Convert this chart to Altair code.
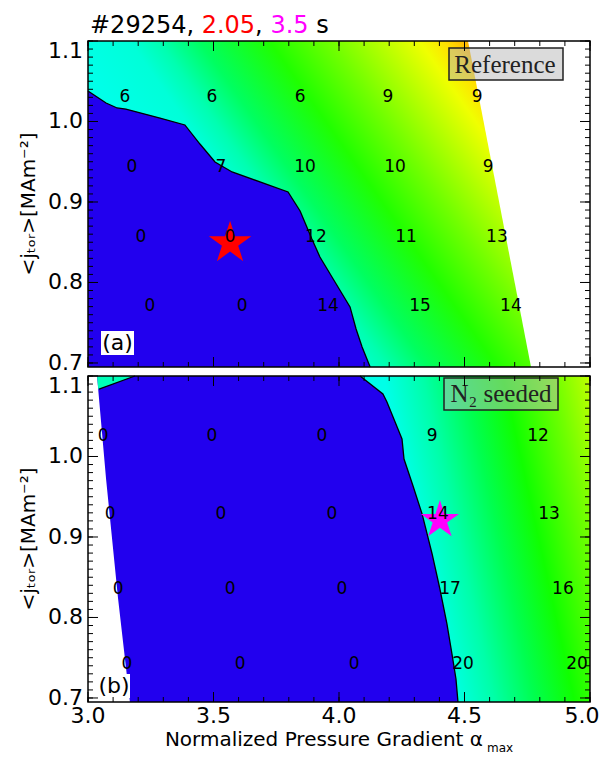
import altair as alt
import numpy as np
import pandas as pd

# ----------------------------- data -----------------------------
X_DOMAIN = [3.0, 5.0]
Y_DOMAIN = [0.695, 1.1]

x_tick_values = [3.0, 3.5, 4.0, 4.5, 5.0]
y_tick_values = [0.7, 0.8, 0.9, 1.0, 1.1]
y_label_values = [0.7, 0.8, 0.9, 1.0]

top_num_x = [3.147, 3.494, 3.845, 4.195, 4.550,
             3.175, 3.530, 3.865, 4.223, 4.594,
             3.211, 3.566, 3.908, 4.267, 4.629,
             3.247, 3.614, 3.956, 4.323, 4.685]
top_num_y = [1.030, 1.030, 1.030, 1.030, 1.030,
             0.943, 0.943, 0.943, 0.943, 0.943,
             0.857, 0.857, 0.857, 0.857, 0.857,
             0.771, 0.771, 0.771, 0.771, 0.771]
top_num_v = [6, 6, 6, 9, 9,
             0, 7, 10, 10, 9,
             0, 0, 12, 11, 13,
             0, 0, 14, 15, 14]

bot_num_x = [3.060, 3.494, 3.932, 4.371, 4.793,
             3.088, 3.530, 3.972, 4.394, 4.837,
             3.120, 3.566, 4.012, 4.442, 4.892,
             3.155, 3.606, 4.060, 4.494, 4.948]
bot_num_y = [1.025, 1.025, 1.025, 1.025, 1.025,
             0.929, 0.929, 0.929, 0.929, 0.929,
             0.835, 0.835, 0.835, 0.835, 0.835,
             0.742, 0.742, 0.742, 0.742, 0.742]
bot_num_v = [0, 0, 0, 9, 12,
             0, 0, 0, 14, 13,
             0, 0, 0, 17, 16,
             0, 0, 0, 20, 20]

top_stable_x = [3.000, 3.072, 3.116, 3.151, 3.287, 3.386, 3.446, 3.506, 3.574,
                3.797, 3.845, 3.892, 3.924, 3.984, 4.044, 4.068, 4.092, 4.124]
top_stable_y = [1.0379, 1.023, 1.0168, 1.0155, 1.0043, 0.9957, 0.972, 0.9497, 0.9373,
                0.9124, 0.8888, 0.854, 0.8317, 0.8006, 0.7696, 0.7422, 0.7199, 0.695]
top_edge_x = [4.514, 4.765]
top_edge_y = [1.1, 0.695]

bot_stable_x = [4.084, 4.175, 4.191, 4.251, 4.259, 4.295, 4.331, 4.371, 4.402,
                4.430, 4.450, 4.466, 4.474]
bot_stable_y = [1.1, 1.0776, 1.0677, 1.0217, 0.9969, 0.9634, 0.9286, 0.8789, 0.8354,
                0.792, 0.7547, 0.7236, 0.695]
bot_edge_x = [3.036, 3.072, 3.120, 3.167]
bot_edge_y = [1.1, 0.972, 0.823, 0.695]
bot_tri_y = [1.0838, 1.1]
bot_tri_xl = [3.041, 3.036]
bot_tri_xr = [3.044, 3.187]

star_top_x, star_top_y = [3.566], [0.849]
star_bot_x, star_bot_y = [4.402], [0.921]

title_parts = ["#29254,", "2.05", ",", "3.5", "s"]
title_colors = ["black", "red", "black", "magenta", "black"]
title_gaps = [1, 0, 1, 1, 0]   # spaces that follow each part

# ----------------------------- styling -----------------------------
W, H = 502, 326
FONT = "DejaVu Sans"
BLUE = "#2200ee"
Y_TITLE = "<j\u209c\u2092\u1d63>[MAm\u207b\u00b2]"
STAR_PATH = ("M0,-1L0.2245,-0.309L0.951,-0.309L0.363,0.118L0.588,0.809L0,0.382"
             "L-0.588,0.809L-0.363,0.118L-0.951,-0.309L-0.2245,-0.309Z")

xs = alt.Scale(domain=X_DOMAIN, nice=False, zero=False)
ys = alt.Scale(domain=Y_DOMAIN, nice=False, zero=False)


def lin_grad(stops_v, colors, k, ox, oy):
    """Linear gradient whose colour depends on v = X - k*Y (page pixels)."""
    w, h = W, H
    base = ox - k * oy
    r0, r1 = stops_v[0] - base, stops_v[-1] - base
    A = 1 + (k * h / w) ** 2
    s = (r1 - r0) / (w * A)
    gx, gy = s, -k * (h / w) * s
    c = s * r0 / w
    g2 = gx * gx + gy * gy
    p1x, p1y = c * gx / g2, c * gy / g2
    stops = [alt.GradientStop(color=col, offset=round(float((v - stops_v[0]) / (stops_v[-1] - stops_v[0])), 4))
             for v, col in zip(stops_v, colors)]
    return alt.LinearGradient(gradient="linear", stops=stops,
                              x1=round(float(p1x), 4), y1=round(float(p1y), 4),
                              x2=round(float(p1x + gx), 4), y2=round(float(p1y + gy), 4))


grad_top = lin_grad([40, 100, 130, 170, 240, 300, 345, 390, 415, 440],
                    ["#00ffe8", "#00ffd8", "#00ffb0", "#00ff60", "#20ff00",
                     "#70ff00", "#b0ff00", "#f0ff00", "#ffe000", "#ffb000"],
                    0.7, 88, 42)
grad_bot = lin_grad([300, 340, 380, 420, 470, 500, 515, 530],
                    ["#00ffe8", "#00ffa8", "#00ff50", "#10ff00", "#70ff00",
                     "#b0ff00", "#d8ff00", "#ffff00"],
                    0.22, 88, 377)


def text_at(text, x, y, **kw):
    return alt.Chart(pd.DataFrame({"t": [text]})).mark_text(**kw).encode(
        x=alt.value(x), y=alt.value(y), text="t:N")


def ticks_layers():
    maj_x = pd.DataFrame({"v": x_tick_values})
    min_x = pd.DataFrame({"v": np.round(np.arange(3.0, 5.0001, 0.1), 3)})
    maj_y = pd.DataFrame({"v": y_tick_values})
    min_y = pd.DataFrame({"v": np.round(np.arange(0.70, 1.1001, 0.01), 3)})
    out = []
    for df, L in ((maj_x, 10), (min_x, 5)):
        out.append(alt.Chart(df).mark_rule(color="black", strokeWidth=1).encode(
            x=alt.X("v:Q", scale=xs, axis=None), y=alt.value(H), y2=alt.value(H - L)))
        out.append(alt.Chart(df).mark_rule(color="black", strokeWidth=1).encode(
            x=alt.X("v:Q", scale=xs, axis=None), y=alt.value(0), y2=alt.value(L)))
    for df, L in ((maj_y, 10), (min_y, 5)):
        out.append(alt.Chart(df).mark_rule(color="black", strokeWidth=1).encode(
            y=alt.Y("v:Q", scale=ys, axis=None), x=alt.value(0), x2=alt.value(L)))
        out.append(alt.Chart(df).mark_rule(color="black", strokeWidth=1).encode(
            y=alt.Y("v:Q", scale=ys, axis=None), x=alt.value(W - L), x2=alt.value(W)))
    return out


def y_labels():
    df = pd.DataFrame({"v": y_label_values})
    return alt.Chart(df).mark_text(align="right", baseline="middle", font=FONT,
                                   fontSize=22, color="black").encode(
        y=alt.Y("v:Q", scale=ys, axis=None), x=alt.value(-5),
        text=alt.Text("v:Q", format=".1f"))


def x_labels(values, dx):
    df = pd.DataFrame({"v": values})
    return alt.Chart(df).mark_text(align="center", baseline="top", font=FONT,
                                   fontSize=22, color="black", dx=dx).encode(
        x=alt.X("v:Q", scale=xs, axis=None), y=alt.value(H + 4),
        text=alt.Text("v:Q", format=".1f"))


def top_label():
    return text_at("1.1", -5, 0, align="right", baseline="top", font=FONT,
                   fontSize=22, color="black")


def y_title():
    return text_at(Y_TITLE, -59, H / 2, align="center", baseline="middle",
                   angle=270, font=FONT, fontSize=20, color="black")


frame_df = pd.DataFrame({"x0": [X_DOMAIN[0]], "x1": [X_DOMAIN[1]],
                         "y0": [Y_DOMAIN[0]], "y1": [Y_DOMAIN[1]]})


def background(grad):
    return alt.Chart(frame_df).mark_rect(fill=grad).encode(
        x=alt.X("x0:Q", scale=xs, axis=None), x2="x1",
        y=alt.Y("y0:Q", scale=ys, axis=None), y2="y1")


def frame():
    return alt.Chart(frame_df).mark_rect(fillOpacity=0, stroke="black", strokeWidth=1.5).encode(
        x=alt.X("x0:Q", scale=xs, axis=None), x2="x1",
        y=alt.Y("y0:Q", scale=ys, axis=None), y2="y1")


def harea(df, xcol, x2col, color):
    return alt.Chart(df).mark_area(orient="horizontal", color=color, opacity=1).encode(
        y=alt.Y("y:Q", scale=ys, axis=None),
        x=alt.X(f"{xcol}:Q", scale=xs, axis=None), x2=f"{x2col}:Q")


def bline(xv, yv):
    df = pd.DataFrame({"x": xv, "y": yv, "i": list(range(len(xv)))})
    return alt.Chart(df).mark_line(color="black", strokeWidth=1.3).encode(
        x=alt.X("x:Q", scale=xs, axis=None), y=alt.Y("y:Q", scale=ys, axis=None),
        order="i:Q")


def numbers(xv, yv, vv):
    df = pd.DataFrame({"x": xv, "y": yv, "v": vv})
    return alt.Chart(df).mark_text(font=FONT, fontSize=17, color="black").encode(
        x=alt.X("x:Q", scale=xs, axis=None), y=alt.Y("y:Q", scale=ys, axis=None),
        text="v:Q")


def star(xv, yv, color, size):
    df = pd.DataFrame({"x": xv, "y": yv})
    return alt.Chart(df).mark_point(shape=STAR_PATH, filled=True, color=color,
                                    opacity=1, size=size).encode(
        x=alt.X("x:Q", scale=xs, axis=None), y=alt.Y("y:Q", scale=ys, axis=None))


def box(x0, x1, y0, y1, fill, opacity, stroke):
    df = pd.DataFrame({"a": [0]})
    kw = dict(fill=fill, fillOpacity=opacity)
    if stroke:
        kw.update(stroke=stroke, strokeWidth=1.5)
    return alt.Chart(df).mark_rect(**kw).encode(
        x=alt.value(x0), x2=alt.value(x1), y=alt.value(y0), y2=alt.value(y1))


top_blue_df = pd.DataFrame({"y": top_stable_y, "x": top_stable_x,
                            "x0": [X_DOMAIN[0]] * len(top_stable_x)})
top_mask_df = pd.DataFrame({"y": top_edge_y, "x": top_edge_x,
                            "x1": [X_DOMAIN[1]] * len(top_edge_x)})

WID = {"#": 0.838, ",": 0.318, " ": 0.318, ".": 0.318, "s": 0.521}
title_layers = []
cx = 2.0
for part, col, gap in zip(title_parts, title_colors, title_gaps):
    title_layers.append(text_at(part, round(cx, 2), -8, align="left", baseline="alphabetic",
                                font=FONT, fontSize=24, color=col))
    cx += (sum(WID.get(ch, 0.636) for ch in part) + gap * WID[" "]) * 24

top = alt.layer(
    background(grad_top),
    harea(top_blue_df, "x0", "x", BLUE),
    harea(top_mask_df, "x", "x1", "white"),
    bline(top_stable_x, top_stable_y),
    star(star_top_x, star_top_y, "red", 2000),
    numbers(top_num_x, top_num_y, top_num_v),
    box(361, 475, 7, 39, "#b8b8b8", 0.5, "#222222"),
    text_at("Reference", 417, 24, align="center", baseline="middle",
            font="Liberation Serif", fontSize=25, color="#222222"),
    box(13, 46, 290, 314, "white", 1, None),
    text_at("(a)", 29.5, 302, align="center", baseline="middle",
            font=FONT, fontSize=22, color="black"),
    *ticks_layers(),
    frame(),
    y_labels(),
    top_label(),
    y_title(),
    *title_layers,
).properties(width=W, height=H)

bot_blue_df = pd.DataFrame({"y": bot_stable_y, "x": bot_stable_x,
                            "x0": [X_DOMAIN[0]] * len(bot_stable_x)})
bot_mask_df = pd.DataFrame({"y": bot_edge_y, "x": bot_edge_x,
                            "x0": [X_DOMAIN[0]] * len(bot_edge_x)})
bot_tri_df = pd.DataFrame({"y": bot_tri_y, "xl": bot_tri_xl, "xr": bot_tri_xr})

bottom = alt.layer(
    background(grad_bot),
    harea(bot_blue_df, "x0", "x", BLUE),
    harea(bot_mask_df, "x0", "x", "white"),
    harea(bot_tri_df, "xl", "xr", "#00ffb8"),
    bline(bot_stable_x, bot_stable_y),
    bline(bot_tri_xr, bot_tri_y),
    star(star_bot_x, star_bot_y, "magenta", 1600),
    numbers(bot_num_x, bot_num_y, bot_num_v),
    box(356, 470, 2, 34, "#b8b8b8", 0.5, "#222222"),
    text_at("N\u2082 seeded", 413, 18, align="center", baseline="middle",
            font="Liberation Serif", fontSize=25, color="#222222"),
    box(10, 42, 298, 322, "white", 1, None),
    text_at("(b)", 26, 310, align="center", baseline="middle",
            font=FONT, fontSize=22, color="black"),
    *ticks_layers(),
    frame(),
    y_labels(),
    top_label(),
    y_title(),
    x_labels(x_tick_values[:-1], 0),
    x_labels(x_tick_values[-1:], -8),
    text_at("Normalized Pressure Gradient \u03b1", 395, 364, align="right",
            baseline="middle", font=FONT, fontSize=20, color="black"),
    text_at("max", 399, 372, align="left", baseline="middle",
            font=FONT, fontSize=12, color="black"),
).properties(width=W, height=H)

chart = alt.vconcat(top, bottom, spacing=9, bounds="flush").properties(
    padding={"left": 11, "top": 6, "right": 0, "bottom": 0}
).configure_view(strokeWidth=0)

chart.save("out.html", embed_options={"renderer": "svg", "actions": False})
